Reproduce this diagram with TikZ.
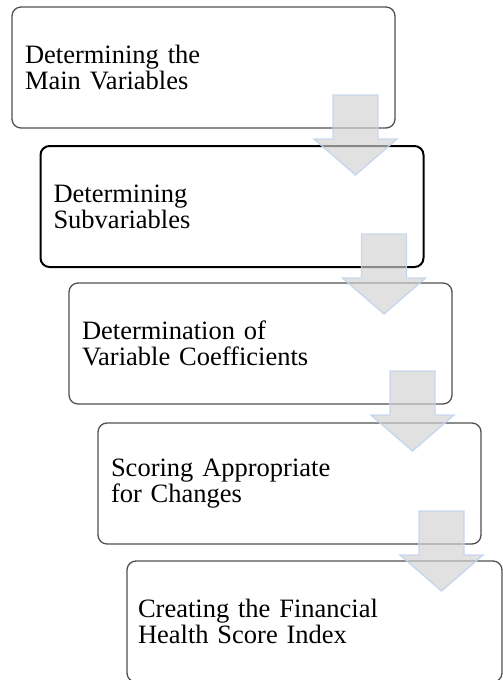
\documentclass[tikz,border=0pt]{standalone}
\usepackage{fontspec}
\setmainfont{Liberation Serif}
\usetikzlibrary{calc}
\definecolor{boxline}{HTML}{505050}
\definecolor{arrowfill}{HTML}{D1D1D1}
\definecolor{arrowedge}{HTML}{C3D5EE}
\tikzset{
  stepbox/.style={draw=boxline, line width=1.3pt, rounded corners=9pt,
    anchor=north west, outer sep=0pt, minimum height=121pt,
    text width=357pt, inner xsep=13pt, inner ysep=0pt, align=left,
    font=\fontsize{26.5}{26}\selectfont},
  keybox/.style={stepbox, draw=black, line width=2pt},
  flowarrow/.style={fill=arrowfill, fill opacity=0.66, draw=arrowedge,
    draw opacity=0.9, line width=1.4pt, line join=miter},
  % block arrow pointing down, origin at the middle of its top edge
  blockarrow/.pic={
    \path[flowarrow] (-22.5,0) -- (22.5,0) -- (22.5,44) -- (41.5,44)
      -- (0,80) -- (-41.5,44) -- (-22.5,44) -- cycle;
  }
}
\begin{document}
\begin{tikzpicture}[x=1pt,y=-1pt]
\useasboundingbox (0,0) rectangle (503,680);
\clip (0,0) rectangle (503,680);
\node[stepbox] (s1) at (12,7) {Determining the\\Main Variables};
\node[keybox] (s2) at (40.5,146) {Determining\\Subvariables};
\node[stepbox] (s3) at (69,283) {Determination of\\Variable Coefficients};
\node[stepbox] (s4) at (98,423) {Scoring Appropriate\\for Changes};
\node[stepbox, text width=353pt, inner xsep=11pt] (s5) at (127,561)
  {Creating the Financial\\Health Score Index};
% arrows linking each step to the next one
\foreach \a in {1,...,4}
  \pic at ($(s\a.south east)+(-39.5,-33)$) {blockarrow};
\end{tikzpicture}
\end{document}
